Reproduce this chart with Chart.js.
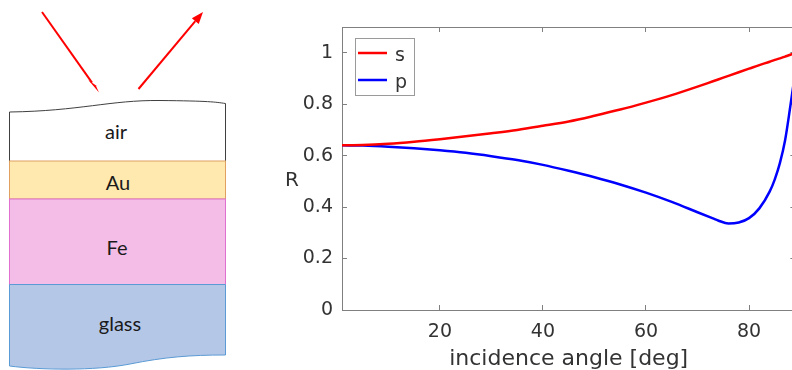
<!DOCTYPE html>
<html>
<head>
<meta charset="utf-8">
<script src="https://cdn.jsdelivr.net/npm/chart.js@4/dist/chart.umd.min.js"></script>
<style>
  html, body { margin: 0; padding: 0; background: #fff; }
  body { width: 792px; height: 370px; overflow: hidden; position: relative; }
  #stack { position: absolute; left: 0; top: 0; }
  #wrap { position: absolute; left: 260px; top: 0; width: 560px; height: 380px; }
</style>
</head>
<body>
<svg id="stack" width="260" height="370" xmlns="http://www.w3.org/2000/svg">
  <!-- incoming / reflected beams -->
  <line x1="42" y1="12" x2="92" y2="82.7" stroke="#ff0000" stroke-width="2"/>
  <polygon points="99,92.5 95.7,85.3 88.3,80.1" fill="#ff0000"/>
  <line x1="138.5" y1="89" x2="195.3" y2="21.2" stroke="#ff0000" stroke-width="2"/>
  <polygon points="203,12 198.75,24.1 191.85,18.3" fill="#ff0000"/>

  <!-- layers -->
  <path d="M9.5 161 L9.5 112 C 80 111, 110 100, 160 100.5 S 215 102, 225.5 103.5 L225.5 161"
        fill="#ffffff" stroke="#404040" stroke-width="1"/>
  <rect x="9.5" y="161" width="216" height="38" fill="#ffe9ae" stroke="#e0a060" stroke-width="1"/>
  <rect x="9.5" y="199" width="216" height="85.5" fill="#f3bde8" stroke="#e070d0" stroke-width="1"/>
  <path d="M9.5 284.5 L225.5 284.5 L225.5 355 C 190 355, 165 357, 130 364 S 40 370, 9.5 366 Z"
        fill="#b4c7e7" stroke="#5b9bd5" stroke-width="1"/>

  <g font-family="Lato" font-size="20" fill="#1a1a1a" text-anchor="middle">
    <text x="116" y="139">air</text>
    <text x="118" y="190">Au</text>
    <text x="117" y="255">Fe</text>
    <text x="120" y="331">glass</text>
  </g>
</svg>

<div id="wrap"><canvas id="myChart"></canvas></div>

<script>
// incidence angle [deg] and reflectance
var angles = [1, 5, 10, 15, 20, 25, 30, 35, 40, 45, 50, 55, 60, 65, 70, 73, 74, 76, 78, 80, 82, 84, 85, 86, 87, 88, 89];
var rS = [0.640, 0.641, 0.646, 0.654, 0.664, 0.675, 0.687, 0.700, 0.716, 0.733, 0.755, 0.779, 0.806, 0.835, 0.868, 0.889, 0.896, 0.910, 0.924, 0.938, 0.952, 0.965, 0.972, 0.978, 0.985, 0.992, 0.998];
var rP = [0.640, 0.639, 0.635, 0.629, 0.621, 0.611, 0.598, 0.583, 0.564, 0.541, 0.516, 0.488, 0.456, 0.420, 0.380, 0.356, 0.348, 0.336, 0.340, 0.357, 0.395, 0.460, 0.508, 0.572, 0.660, 0.790, 0.930];

var xTicks = [20, 40, 60, 80];
var yTicks = [0, 0.2, 0.4, 0.6, 0.8, 1];
var yTickLabels = ["0", "0.2", "0.4", "0.6", "0.8", "1"];

var axisColor = "#808080";
var textColor = "#333333";

Chart.defaults.font.family = "DejaVu Sans";
Chart.defaults.color = textColor;

function pairs(ys) {
    return angles.map(function (a, i) { return {x: a, y: ys[i]}; });
}

function setTicks(list) {
    return function (scale) {
        scale.ticks = list.map(function (v) { return {value: v}; });
    };
}

// legend in a box inside the axes, like the matlab one
var boxLegend = {
    id: "boxLegend",
    afterDraw: function (chart) {
        var ctx = chart.ctx;
        var area = chart.chartArea;
        var left = area.left + 13, top = area.top + 11;
        ctx.save();
        ctx.fillStyle = "#ffffff";
        ctx.fillRect(left, top, 59, 57);
        ctx.strokeStyle = "#9a9a9a";
        ctx.lineWidth = 1;
        ctx.strokeRect(left + 0.5, top + 0.5, 59, 57);
        chart.data.datasets.forEach(function (ds, i) {
            var y = top + 15 + i * 27;
            ctx.strokeStyle = ds.borderColor;
            ctx.lineWidth = 2.5;
            ctx.beginPath();
            ctx.moveTo(left + 3, y);
            ctx.lineTo(left + 32, y);
            ctx.stroke();
            ctx.fillStyle = textColor;
            ctx.font = "19px 'DejaVu Sans'";
            ctx.textAlign = "left";
            ctx.textBaseline = "alphabetic";
            ctx.fillText(ds.label, left + 40, y + 8);
        });
        // horizontal y label
        ctx.font = "20px 'DejaVu Sans'";
        ctx.textAlign = "center";
        ctx.fillText("R", area.left - 50, 186);
        ctx.restore();
    }
};

new Chart("myChart", {
    type: "line",
    data: {
        datasets: [{
            label: "s",
            data: pairs(rS),
            borderColor: "#ff0000",
            borderWidth: 2.5,
            pointRadius: 0,
            cubicInterpolationMode: "monotone",
            fill: false
        }, {
            label: "p",
            data: pairs(rP),
            borderColor: "#0000ff",
            borderWidth: 2.5,
            pointRadius: 0,
            cubicInterpolationMode: "monotone",
            fill: false
        }]
    },
    options: {
        responsive: true,
        maintainAspectRatio: false,
        animation: false,
        layout: {padding: {top: 27, left: 0, right: 24.6, bottom: 0}},
        plugins: {
            legend: {display: false},
            tooltip: {enabled: false}
        },
        scales: {
            x: {
                type: "linear",
                position: "bottom",
                min: 1,
                max: 89,
                afterBuildTicks: setTicks(xTicks),
                afterFit: function (s) { s.height = 70; },
                border: {display: true, color: axisColor, width: 1},
                grid: {drawOnChartArea: false, tickLength: -5, color: axisColor},
                ticks: {padding: 16, font: {size: 19}, color: textColor, maxRotation: 0},
                title: {
                    display: true,
                    text: "incidence angle [deg]",
                    font: {size: 22},
                    color: textColor,
                    padding: {top: 0, bottom: 8}
                }
            },
            xTop: {
                type: "linear",
                position: "top",
                min: 1,
                max: 89,
                afterBuildTicks: setTicks(xTicks),
                afterFit: function (s) { s.height = 0; },
                border: {display: true, color: axisColor, width: 1},
                grid: {drawOnChartArea: false, tickLength: -5, color: axisColor},
                ticks: {display: false}
            },
            y: {
                type: "linear",
                position: "left",
                min: 0,
                max: 1.1,
                afterBuildTicks: setTicks(yTicks),
                afterFit: function (s) { s.width = 82; },
                border: {display: true, color: axisColor, width: 1},
                grid: {drawOnChartArea: false, tickLength: -5, color: axisColor},
                ticks: {
                    padding: 14,
                    font: {size: 19},
                    color: textColor,
                    callback: function (v) {
                        var i = yTicks.indexOf(v);
                        return i >= 0 ? yTickLabels[i] : "";
                    }
                }
            },
            yRight: {
                type: "linear",
                position: "right",
                min: 0,
                max: 1.1,
                afterBuildTicks: setTicks(yTicks),
                afterFit: function (s) { s.width = 0; },
                border: {display: true, color: axisColor, width: 1},
                grid: {drawOnChartArea: false, tickLength: -5, color: axisColor},
                ticks: {display: false}
            }
        }
    },
    plugins: [boxLegend]
});
</script>
</body>
</html>
